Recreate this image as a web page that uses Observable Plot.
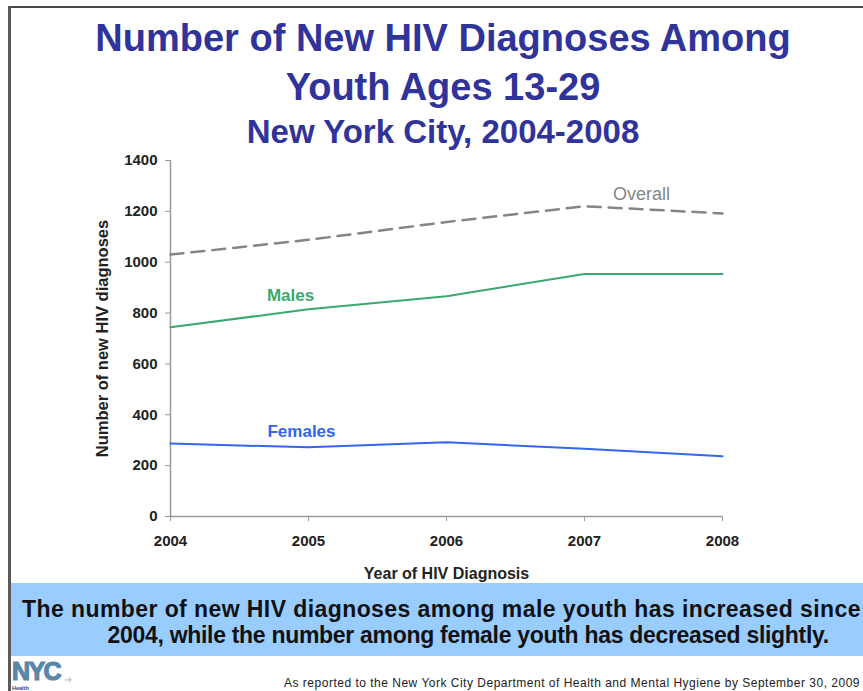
<!DOCTYPE html>
<html>
<head>
<meta charset="utf-8">
<script src="https://cdn.jsdelivr.net/npm/d3@7"></script>
<script src="https://cdn.jsdelivr.net/npm/@observablehq/plot@0.6"></script>
<style>
  html, body { margin: 0; padding: 0; }
  body {
    width: 863px; height: 691px; overflow: hidden; position: relative;
    background: #fff; font-family: "Liberation Sans", Arial, sans-serif;
  }
  .frame {
    position: absolute; left: 8px; top: 6px; width: 900px; height: 700px;
    border-top: 2px solid #4a4a4a; border-left: 3px solid #5a5a5a;
  }
  .title {
    position: absolute; left: 0; width: 886px; text-align: center;
    color: #30339a; font-weight: bold; white-space: nowrap;
  }
  .banner {
    position: absolute; left: 11px; top: 583px; width: 860px; height: 73px;
    background: #99ccff;
  }
  .banner-line {
    position: absolute; white-space: nowrap; font-weight: bold; color: #111;
    font-size: 23px; line-height: 23px;
  }
  .footer {
    position: absolute; right: 3px; top: 677px; font-size: 12px; line-height: 12px;
    letter-spacing: 0.5px; color: #222; white-space: nowrap;
  }
  .logo-mark {
    position: absolute; left: 12px; top: 661px; color: #5a87a8;
    font-size: 25px; line-height: 20px; height: 20px; font-weight: bold; letter-spacing: -1.6px;
    -webkit-text-stroke: 1.2px #5a87a8;
  }
  .logo-arrow {
    position: absolute; left: 64px; top: 675px; color: #cccccc;
    font-size: 10px; line-height: 10px;
  }
  .logo-sub {
    position: absolute; left: 12px; top: 685.5px; color: #1f3f8f;
    font-size: 5.5px; line-height: 5.5px; font-weight: bold;
  }
  #chart { position: absolute; left: 0; top: 150px; }
</style>
</head>
<body>
<div class="frame"></div>
<div class="title" style="top:19px;font-size:38px;line-height:38px;">Number of New HIV Diagnoses Among</div>
<div class="title" style="top:68px;font-size:38px;line-height:38px;">Youth Ages 13-29</div>
<div class="title" style="top:115px;font-size:33px;line-height:33px;">New York City, 2004-2008</div>
<div id="chart"></div>
<div class="banner"></div>
<div class="banner-line" id="b1" style="top:598px;letter-spacing:0.42px;">The number of new HIV diagnoses among male youth has increased since</div>
<div class="banner-line" id="b2" style="top:624px;letter-spacing:-0.3px;">2004, while the number among female youth has decreased slightly.</div>
<div class="logo-mark">NYC</div>
<div class="logo-arrow">➔</div>
<div class="logo-sub">Health</div>
<div class="footer">As reported to the New York City Department of Health and Mental Hygiene by September 30, 2009</div>
<script>
// Yearly counts of new HIV diagnoses among youth ages 13-29, NYC
const years = [2004, 2005, 2006, 2007, 2008];
const overall = [1030, 1088, 1158, 1220, 1192];
const males = [744, 815, 866, 954, 954];
const females = [287, 272, 292, 266, 237];

const seriesNames = ["Overall", "Males", "Females"];
const seriesColors = ["#858585", "#3ba86c", "#3366ee"];
const yTicks = [0, 200, 400, 600, 800, 1000, 1200, 1400];

const seriesValues = [overall, males, females];
const rows = seriesNames.flatMap((name, i) =>
  years.map((year, j) => ({ series: name, year, value: seriesValues[i][j] }))
);

const fmt = d3.format("d");
const axisGray = "#9a9a9a";

const chart = Plot.plot({
  width: 863,
  height: 430,
  marginLeft: 170,
  marginRight: 141,
  marginTop: 10,
  marginBottom: 64,
  style: {
    fontFamily: '"Liberation Sans", Arial, sans-serif',
    fontSize: "15px",
    fontWeight: "bold",
    color: "#222",
    background: "transparent",
    overflow: "visible"
  },
  x: { domain: [2004, 2008] },
  y: { domain: [0, 1400] },
  color: { domain: seriesNames, range: seriesColors },
  marks: [
    Plot.axisY({
      ticks: yTicks, tickFormat: fmt, tickSize: 5, tickPadding: 8,
      stroke: axisGray, fill: "#222", label: null
    }),
    Plot.axisY({
      ticks: [], tickSize: 0, fontSize: 16.5,
      label: "Number of new HIV diagnoses", labelAnchor: "center", labelOffset: 74, labelArrow: "none"
    }),
    Plot.axisX({
      ticks: years, tickFormat: fmt, tickSize: 5, tickPadding: 14,
      stroke: axisGray, fill: "#222", label: null
    }),
    Plot.axisX({
      ticks: [], tickSize: 0, fontSize: 16,
      label: "Year of HIV Diagnosis", labelAnchor: "center", labelOffset: 62, labelArrow: "none"
    }),
    Plot.ruleX([2004], { stroke: axisGray, strokeWidth: 1.5 }),
    Plot.ruleY([0], { stroke: axisGray, strokeWidth: 1.5 }),
    Plot.line(rows, {
      filter: d => d.series === "Overall",
      x: "year", y: "value", stroke: "series",
      strokeWidth: 2.5, strokeDasharray: "13,8"
    }),
    Plot.line(rows, {
      filter: d => d.series !== "Overall",
      x: "year", y: "value", z: "series", stroke: "series", strokeWidth: 2
    }),
    // series labels, each attached to one of its own points
    Plot.text(rows, {
      filter: d => d.series === "Overall" && d.year === 2007,
      x: "year", y: "value", text: "series", fill: "series",
      dx: 57, dy: -12, fontSize: 18, fontWeight: "normal"
    }),
    Plot.text(rows, {
      filter: d => d.series === "Males" && d.year === 2005,
      x: "year", y: "value", text: "series", fill: "series",
      dx: -18, dy: -14, fontSize: 17, fontWeight: "bold"
    }),
    Plot.text(rows, {
      filter: d => d.series === "Females" && d.year === 2005,
      x: "year", y: "value", text: "series", fill: "series",
      dx: -7, dy: -16, fontSize: 17, fontWeight: "bold"
    })
  ]
});
document.getElementById("chart").appendChild(chart);

// banner lines: first starts near the left edge, second is centred below it
const b1 = document.getElementById("b1");
const b2 = document.getElementById("b2");
b1.style.left = "22px";
b2.style.left = (468 - b2.offsetWidth / 2) + "px";
</script>
</body>
</html>
